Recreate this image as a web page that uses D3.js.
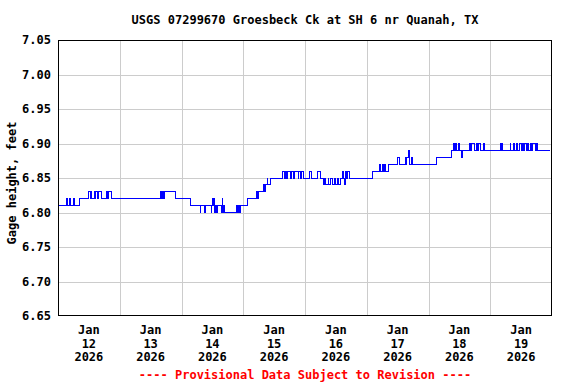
<!DOCTYPE html>
<html>
<head>
<meta charset="utf-8">
<script src="https://cdn.jsdelivr.net/npm/d3@7"></script>
<style>
  html, body { margin: 0; padding: 0; background: #fff; }
  svg text { font-family: "DejaVu Sans Mono", "Liberation Mono", monospace; font-weight: bold; font-size: 12px; }
</style>
</head>
<body>
<svg id="chart" width="576" height="384"></svg>
<script>
// ---- Data ----
const chartTitle = "USGS 07299670 Groesbeck Ck at SH 6 nr Quanah, TX";
const yAxisTitle = "Gage height, feet";
const footerNote = "---- Provisional Data Subject to Revision ----";
const startDate = "2026-01-12T00:00:00Z";
const endDate = "2026-01-20T00:00:00Z";
const yTickValues = [6.65, 6.70, 6.75, 6.80, 6.85, 6.90, 6.95, 7.00, 7.05];
const xTickDays = ["12", "13", "14", "15", "16", "17", "18", "19"];
const xTickMonth = "Jan";
const xTickYear = "2026";
// step changes: [hours since Jan 12 00:00, gage height ft]
const gageSteps = [
  [0,6.81],[3.2,6.82],[3.6,6.81],[4.6,6.82],[5.0,6.81],[5.9,6.82],[6.3,6.81],[8.4,6.82],
  [11.7,6.83],[12.5,6.82],[12.75,6.83],[13.2,6.82],[14.0,6.83],[14.5,6.82],[14.75,6.83],[15.5,6.82],[15.75,6.83],[16.8,6.82],[18.8,6.83],[19.25,6.82],[19.5,6.83],[20.7,6.82],
  [40.0,6.83],[40.25,6.82],[40.5,6.83],[41.0,6.82],[41.25,6.83],[45.6,6.82],
  [51.4,6.81],[55.2,6.80],[55.5,6.81],[57.0,6.80],[57.25,6.81],[59.5,6.80],[59.75,6.81],[60.2,6.82],[60.5,6.81],[60.75,6.82],[61.0,6.80],[61.25,6.81],[61.75,6.80],[62.0,6.81],[63.5,6.80],[63.75,6.82],[64.0,6.81],[64.5,6.80],[64.75,6.81],[64.9,6.80],
  [69.4,6.81],[69.9,6.80],[70.2,6.81],[70.5,6.80],[71.1,6.81],[73.6,6.82],
  [77.3,6.83],[77.6,6.82],[77.9,6.83],[80.0,6.84],[80.3,6.83],[80.6,6.84],[81.3,6.85],[81.6,6.84],[82.4,6.85],
  [87.4,6.86],[87.9,6.85],[88.4,6.86],[89.0,6.85],[89.3,6.86],[90.5,6.85],[90.8,6.86],[91.6,6.85],[92.0,6.86],[93.3,6.85],[93.6,6.86],[94.4,6.85],[94.7,6.86],[95.6,6.85],
  [97.9,6.86],[98.7,6.85],[101.0,6.86],[102.1,6.85],
  [103.0,6.84],[103.5,6.85],[104.0,6.84],[105.0,6.85],[105.3,6.84],[106.0,6.85],[106.5,6.84],[107.5,6.85],[107.8,6.84],[108.7,6.85],[109.0,6.84],[109.8,6.85],[110.4,6.86],[110.9,6.85],[111.3,6.84],[111.6,6.86],[112.3,6.85],[112.6,6.86],[113.2,6.85],
  [122.4,6.86],[125.1,6.87],[125.4,6.86],[126.0,6.87],[126.5,6.86],[127.0,6.87],[127.3,6.86],[128.3,6.87],
  [132.1,6.88],[132.9,6.87],[134.9,6.88],[135.2,6.87],[135.6,6.88],[136.2,6.89],[136.5,6.88],[136.8,6.87],[137.2,6.88],[137.8,6.87],
  [147.2,6.88],[153.0,6.89],[153.6,6.90],[154.0,6.89],[154.3,6.90],[155.0,6.89],[155.5,6.90],[156.0,6.89],[156.8,6.88],[157.1,6.89],
  [160.1,6.90],[160.5,6.89],[160.9,6.90],[162.0,6.89],[162.6,6.90],[162.9,6.89],[163.5,6.90],[164.3,6.89],[165.2,6.90],[165.8,6.89],
  [171.8,6.90],[172.2,6.89],[172.6,6.90],[172.9,6.89],
  [175.7,6.90],[176.0,6.89],[177.0,6.90],[177.4,6.89],
  [178.3,6.90],[178.7,6.89],[179.3,6.90],[180.0,6.89],[180.5,6.90],[180.8,6.89],[181.3,6.90],[182.0,6.89],[182.4,6.90],[183.0,6.89],[183.5,6.90],[184.0,6.89],[184.5,6.90],[185.4,6.89],
  [186.0,6.90],[186.5,6.89],[191.2,6.89]
];

// ---- Layout ----
const plot = { left: 58, right: 552, top: 40, bottom: 316 };
const svg = d3.select("#chart");
const t0 = new Date(startDate), t1 = new Date(endDate);
const x = d3.scaleUtc().domain([t0, t1]).range([plot.left, plot.right]);
const y = d3.scaleLinear().domain([6.65, 7.05]).range([plot.bottom, plot.top]);
const W = plot.right - plot.left, H = plot.bottom - plot.top;

const dayBounds = d3.utcDay.range(d3.utcDay.offset(t0, 1), t1);

// vertical gridlines
svg.append("g")
  .attr("transform", `translate(0,${plot.bottom})`)
  .call(d3.axisBottom(x).tickValues(dayBounds).tickSize(-H).tickFormat(""))
  .call(g => g.select(".domain").remove())
  .call(g => g.selectAll("line").attr("stroke", "#cccccc").attr("shape-rendering", "crispEdges"));

// horizontal gridlines
svg.append("g")
  .attr("transform", `translate(${plot.left},0)`)
  .call(d3.axisLeft(y).tickValues(yTickValues.slice(1, -1)).tickSize(-W).tickFormat(""))
  .call(g => g.select(".domain").remove())
  .call(g => g.selectAll("line").attr("stroke", "#cccccc").attr("shape-rendering", "crispEdges"));

// y tick labels
svg.append("g")
  .attr("transform", `translate(${plot.left},0)`)
  .call(d3.axisLeft(y).tickValues(yTickValues).tickSize(0).tickPadding(7).tickFormat(d3.format(".2f")))
  .call(g => g.select(".domain").remove())
  .call(g => g.selectAll("text").attr("fill", "#000").style("font-size", "12px"));

// data line
const pts = gageSteps.map(d => [new Date(t0.getTime() + d[0] * 3600e3), d[1]]);
svg.append("path")
  .datum(pts)
  .attr("fill", "none")
  .attr("stroke", "#0000ff")
  .attr("stroke-width", 1)
  .attr("shape-rendering", "crispEdges")
  .attr("d", d3.line().x(d => x(d[0])).y(d => y(d[1])).curve(d3.curveStepAfter));

// plot border
svg.append("rect")
  .attr("x", plot.left + 0.5).attr("y", plot.top + 0.5)
  .attr("width", W - 1).attr("height", H - 1)
  .attr("fill", "none").attr("stroke", "#000").attr("stroke-width", 1);

// x tick labels at noon of each day
const noonTicks = xTickDays.map((d, i) => d3.utcHour.offset(d3.utcDay.offset(t0, i), 12));
const xl = svg.append("g");
noonTicks.forEach((t, i) => {
  const tx = xl.append("text").attr("x", x(t)).attr("y", 334).attr("text-anchor", "middle").attr("fill", "#000");
  tx.append("tspan").attr("x", x(t)).attr("dy", 0).text(xTickMonth);
  tx.append("tspan").attr("x", x(t)).attr("dy", 13.5).text(xTickDays[i]);
  tx.append("tspan").attr("x", x(t)).attr("dy", 13.5).text(xTickYear);
});

// title
svg.append("text").attr("x", (plot.left + plot.right) / 2).attr("y", 24)
  .attr("text-anchor", "middle").attr("fill", "#000").text(chartTitle);

// y axis title
svg.append("text")
  .attr("transform", `translate(16,${(plot.top + plot.bottom) / 2 + 5}) rotate(-90)`)
  .attr("text-anchor", "middle").attr("fill", "#000").text(yAxisTitle);

// footer
svg.append("text").attr("x", (plot.left + plot.right) / 2).attr("y", 379)
  .attr("text-anchor", "middle").attr("fill", "#ff0000").text(footerNote);
</script>
</body>
</html>
